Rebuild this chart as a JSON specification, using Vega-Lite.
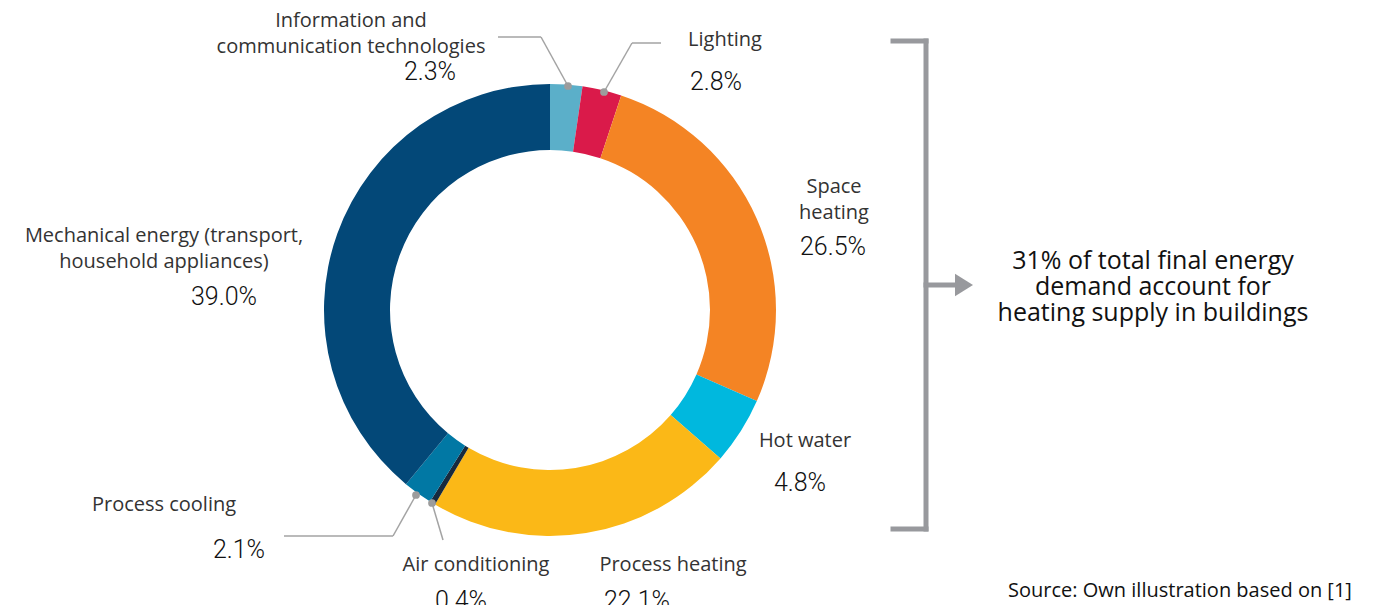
{
  "$schema": "https://vega.github.io/schema/vega-lite/v6.json",
  "width": 1392,
  "height": 605,
  "autosize": {"type": "none"},
  "padding": 0,
  "background": "white",
  "config": {"view": {"stroke": null}},
  "datasets": {
    "slices": [
      {"idx": 1, "category": "Information and communication technologies", "value": 2.3},
      {"idx": 2, "category": "Lighting", "value": 2.8},
      {"idx": 3, "category": "Space heating", "value": 26.5},
      {"idx": 4, "category": "Hot water", "value": 4.8},
      {"idx": 5, "category": "Process heating", "value": 22.1},
      {"idx": 6, "category": "Air conditioning", "value": 0.4},
      {"idx": 7, "category": "Process cooling", "value": 2.1},
      {"idx": 8, "category": "Mechanical energy", "value": 39.0}
    ],
    "labels": [
      {"name": "Information and\ncommunication technologies", "nx": 351, "ny": 27, "pct": "2.3%", "px": 430, "py": 80},
      {"name": "Lighting", "nx": 725, "ny": 46, "pct": "2.8%", "px": 716, "py": 90},
      {"name": "Space\nheating", "nx": 834, "ny": 193, "pct": "26.5%", "px": 833, "py": 255},
      {"name": "Hot water", "nx": 805, "ny": 447, "pct": "4.8%", "px": 800, "py": 491},
      {"name": "Process heating", "nx": 673, "ny": 571, "pct": "22.1%", "px": 637, "py": 609},
      {"name": "Air conditioning", "nx": 476, "ny": 571, "pct": "0.4%", "px": 461, "py": 609},
      {"name": "Process cooling", "nx": 164, "ny": 511, "pct": "2.1%", "px": 239, "py": 558},
      {"name": "Mechanical energy (transport,\nhousehold appliances)", "nx": 164, "ny": 242, "pct": "39.0%", "px": 224, "py": 305}
    ],
    "leaders": [
      {"x": 498, "y": 37, "x2": 541, "y2": 37},
      {"x": 541, "y": 37, "x2": 568, "y2": 86},
      {"x": 661, "y": 43, "x2": 632, "y2": 43},
      {"x": 632, "y": 43, "x2": 604, "y2": 92},
      {"x": 284, "y": 536, "x2": 393, "y2": 536},
      {"x": 393, "y": 536, "x2": 416, "y2": 495},
      {"x": 432, "y": 503, "x2": 443, "y2": 540}
    ],
    "dots": [
      {"x": 568, "y": 86},
      {"x": 604, "y": 92},
      {"x": 416, "y": 495},
      {"x": 432, "y": 503}
    ],
    "bracket": [
      {"x": 893, "y": 41, "x2": 926, "y2": 41},
      {"x": 926, "y": 41, "x2": 926, "y2": 529},
      {"x": 893, "y": 529, "x2": 926, "y2": 529},
      {"x": 926, "y": 285, "x2": 958, "y2": 285}
    ],
    "arrowhead": [{"x": 964, "y": 285}],
    "notes": [
      {"text": "31% of total final energy\ndemand account for\nheating supply in buildings", "x": 1153, "y": 269}
    ],
    "source": [
      {"text": "Source: Own illustration based on [1]", "x": 1180, "y": 597}
    ]
  },
  "resolve": {"scale": {"color": "independent"}},
  "layer": [
    {
      "data": {"name": "slices"},
      "mark": {
        "type": "arc",
        "x": {"expr": "scale('x', 550)"},
        "y": {"expr": "scale('y', 310)"},
        "outerRadius": 226,
        "innerRadius": 160
      },
      "encoding": {
        "theta": {"field": "value", "type": "quantitative", "stack": true},
        "order": {"field": "idx", "type": "quantitative"},
        "color": {
          "field": "category",
          "type": "nominal",
          "legend": null,
          "scale": {
            "domain": ["Information and communication technologies", "Lighting", "Space heating", "Hot water", "Process heating", "Air conditioning", "Process cooling", "Mechanical energy"],
            "range": ["#5BAFC9", "#DA1A4A", "#F48424", "#00B8DE", "#FBB817", "#172A3E", "#0178A4", "#034878"]
          }
        }
      }
    },
    {
      "data": {"name": "leaders"},
      "mark": {"type": "rule", "color": "#a3a3a3", "strokeWidth": 1.5},
      "encoding": {
        "x": {"field": "x", "type": "quantitative", "scale": {"domain": [0, 1392], "nice": false, "zero": false}, "axis": null},
        "y": {"field": "y", "type": "quantitative", "scale": {"domain": [0, 605], "nice": false, "zero": false, "reverse": true}, "axis": null},
        "x2": {"field": "x2"},
        "y2": {"field": "y2"}
      }
    },
    {
      "data": {"name": "dots"},
      "mark": {"type": "point", "filled": true, "color": "#9c9c9c", "size": 60, "opacity": 1},
      "encoding": {
        "x": {"field": "x", "type": "quantitative"},
        "y": {"field": "y", "type": "quantitative"}
      }
    },
    {
      "data": {"name": "bracket"},
      "mark": {"type": "rule", "color": "#98999d", "strokeWidth": 5, "strokeCap": "square"},
      "encoding": {
        "x": {"field": "x", "type": "quantitative"},
        "y": {"field": "y", "type": "quantitative"},
        "x2": {"field": "x2"},
        "y2": {"field": "y2"}
      }
    },
    {
      "data": {"name": "arrowhead"},
      "mark": {"type": "point", "filled": true, "color": "#98999d", "opacity": 1, "shape": "M-1,-1.25L1,0L-1,1.25Z", "size": 324},
      "encoding": {
        "x": {"field": "x", "type": "quantitative"},
        "y": {"field": "y", "type": "quantitative"}
      }
    },
    {
      "data": {"name": "labels"},
      "mark": {"type": "text", "font": "Open Sans", "fontSize": 20, "color": "#333333", "align": "center", "baseline": "alphabetic", "lineBreak": "\n", "lineHeight": 26},
      "encoding": {
        "x": {"field": "nx", "type": "quantitative"},
        "y": {"field": "ny", "type": "quantitative"},
        "text": {"field": "name"}
      }
    },
    {
      "data": {"name": "labels"},
      "mark": {"type": "text", "font": "Roboto", "fontSize": 25, "fontWeight": 300, "color": "#111111", "align": "center", "baseline": "alphabetic"},
      "encoding": {
        "x": {"field": "px", "type": "quantitative"},
        "y": {"field": "py", "type": "quantitative"},
        "text": {"field": "pct"}
      }
    },
    {
      "data": {"name": "notes"},
      "mark": {"type": "text", "font": "Open Sans", "fontSize": 25, "color": "#111111", "align": "center", "baseline": "alphabetic", "lineBreak": "\n", "lineHeight": 26},
      "encoding": {
        "x": {"field": "x", "type": "quantitative"},
        "y": {"field": "y", "type": "quantitative"},
        "text": {"field": "text"}
      }
    },
    {
      "data": {"name": "source"},
      "mark": {"type": "text", "font": "Open Sans", "fontSize": 20, "color": "#111111", "align": "center", "baseline": "alphabetic"},
      "encoding": {
        "x": {"field": "x", "type": "quantitative"},
        "y": {"field": "y", "type": "quantitative"},
        "text": {"field": "text"}
      }
    }
  ]
}
